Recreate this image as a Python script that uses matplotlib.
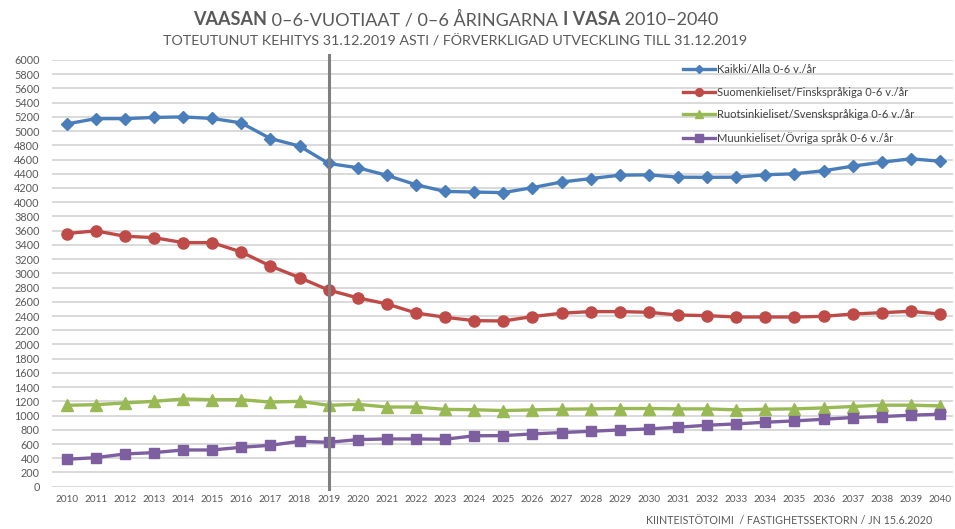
import matplotlib
matplotlib.use("Agg")
import matplotlib.pyplot as plt

years = list(range(2010, 2041))
kaikki = [5100, 5175, 5175, 5192, 5200, 5178, 5115, 4895, 4790, 4545,
          4485, 4378, 4246, 4152, 4143, 4135, 4205, 4284, 4332, 4380,
          4385, 4352, 4350, 4352, 4386, 4400, 4442, 4507, 4563, 4610, 4577]
suomi = [3560, 3597, 3522, 3502, 3432, 3432, 3300, 3103, 2940, 2765,
         2655, 2570, 2443, 2382, 2335, 2330, 2392, 2439, 2462, 2462,
         2452, 2414, 2405, 2386, 2386, 2386, 2395, 2428, 2447, 2466, 2428]
ruotsi = [1144, 1153, 1177, 1200, 1233, 1223, 1223, 1190, 1200, 1144,
          1158, 1120, 1120, 1087, 1082, 1070, 1080, 1089, 1094, 1099,
          1099, 1094, 1094, 1080, 1089, 1094, 1108, 1127, 1146, 1146, 1136]
muut = [385, 408, 460, 479, 516, 516, 554, 582, 638, 624,
        662, 671, 671, 667, 716, 718, 742, 761, 779, 798,
        812, 836, 864, 883, 906, 925, 948, 972, 986, 1005, 1019]
labels = ["Kaikki/Alla 0-6 v./år",
          "Suomenkieliset/Finskspråkiga 0-6 v./år",
          "Ruotsinkieliset/Svenskspråkiga 0-6 v./år",
          "Muunkieliset/Övriga språk 0-6 v./år"]
split_year = 2019

FONT = "Lato"
TXT = "#595959"

fig = plt.figure(figsize=(9.55, 5.29), dpi=100)
ax = fig.add_axes([0.0545, 0.080, 0.9435, 0.8066])

styles = [("#4A7EBB", "D", 6.5), ("#BE4B48", "o", 8), ("#98B954", "^", 8), ("#7D5FA0", "s", 7.5)]
for data, lab, (c, m, ms) in zip([kaikki, suomi, ruotsi, muut], labels, styles):
    ax.plot(years, data, color=c, lw=2.4, marker=m, ms=ms, label=lab, zorder=3)

ax.plot([split_year, split_year], [-30, 6070], color="#808080", lw=2.2, clip_on=False, zorder=4)

ax.set_xlim(2009.5, 2040.45)
ax.set_ylim(0, 6000)
ax.set_yticks(range(0, 6001, 200))
ax.set_xticks(years)
ax.grid(axis="y", color="#d9d9d9", lw=1.4, zorder=0)
ax.set_axisbelow(True)
for s in ax.spines.values():
    s.set_visible(False)
ax.tick_params(axis="y", length=0, pad=9, labelsize=7.8, labelcolor=TXT)
ax.tick_params(axis="x", length=0, pad=6, labelsize=7.2, labelcolor=TXT)
for t in ax.get_xticklabels() + ax.get_yticklabels():
    t.set_fontfamily(FONT)

leg = ax.legend(loc="upper left", bbox_to_anchor=(683 / 955, 1 - 64 / 529),
                bbox_transform=fig.transFigure, frameon=False, borderpad=0,
                borderaxespad=0, handlelength=2.9, handletextpad=0.2,
                labelspacing=1.05, markerscale=0.7,
                prop={"family": FONT, "size": 8})
for t in leg.get_texts():
    t.set_color("#404040")

renderer = fig.canvas.get_renderer()

def fit_text(pieces, left, right, baseline, size):
    texts = []
    for s, w in pieces:
        texts.append(fig.text(0, baseline, s, fontsize=size, fontweight=w,
                              family=FONT, color=TXT, va="baseline", ha="left"))
    total = sum(t.get_window_extent(renderer).width for t in texts)
    scale = (right - left) / total
    for t in texts:
        t.set_fontsize(size * scale)
    widths = [t.get_window_extent(renderer).width for t in texts]
    x = left
    for t, w in zip(texts, widths):
        t.set_x(x / 955)
        x += w

fit_text([("VAASAN", "bold"), (" 0–6-VUOTIAAT / 0–6 ÅRINGARNA ", "normal"),
          ("I VASA", "bold"), (" 2010–2040", "normal")], 193, 718, 1 - 25 / 529, 14)
fit_text([("TOTEUTUNUT KEHITYS 31.12.2019 ASTI / FÖRVERKLIGAD UTVECKLING TILL 31.12.2019", "normal")],
         163, 748, 1 - 46 / 529, 10)
fit_text([("KIINTEISTÖTOIMI  / FASTIGHETSSEKTORN / JN 15.6.2020", "normal")],
         646, 930, 1 - 524 / 529, 6)

fig.savefig("out.png", dpi=100)
